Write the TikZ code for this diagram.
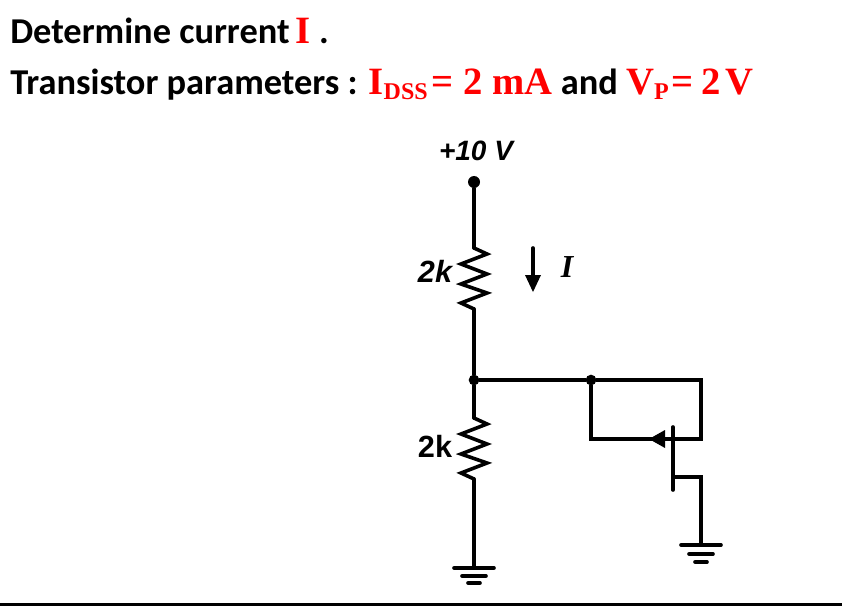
\documentclass[tikz,border=0pt]{standalone}
\usepackage{fontspec}
\usetikzlibrary{calc}
\setmainfont{Carlito}
\newfontfamily\redserif{Liberation Serif}
\newfontfamily\labelsans{Liberation Sans}
\definecolor{redtxt}{rgb}{1,0,0}
\tikzset{
  wire/.style={line width=2.7pt,line join=miter,line cap=round},
  dot/.style={circle,fill=black,inner sep=0pt,minimum size=9pt},
  title/.style={anchor=base west,inner sep=0pt,font=\fontsize{27.3}{30}\selectfont\bfseries},
  value/.style={inner sep=0pt,font=\labelsans\fontsize{21}{24}\selectfont\bfseries},
}
\newcommand{\redbig}[1]{{\redserif\color{redtxt}\fontsize{29}{30}\selectfont\bfseries #1}}
\newcommand{\redsub}[1]{{\redserif\color{redtxt}\fontsize{18}{20}\selectfont\bfseries\raisebox{-3.5pt}{#1}}}
\begin{document}
\begin{tikzpicture}[x=0.75pt,y=0.75pt,yscale=-1,xscale=1]
\useasboundingbox (0,0) rectangle (842,606);

% Points of the circuit
\node [dot] (vplus) at (474,182) {};
\node [dot,minimum size=8pt] (junc) at (474,380) {};
\node [dot,minimum size=8pt] (juncg) at (591,380) {};
\coordinate (rtop) at (474,248);
\coordinate (rbot) at (474,309);
\coordinate (rtwotop) at (474,418);
\coordinate (rtwobot) at (474,479);
\coordinate (gndl) at (474,568);
\coordinate (corner) at (701,380);
\coordinate (gateleft) at (591,439);
\coordinate (gateright) at (701,439);
\coordinate (chantop) at (673,427);
\coordinate (chanbot) at (673,490);
\coordinate (srcin) at (673,477);
\coordinate (srcout) at (701,477);
\coordinate (gndr) at (701,545);
\coordinate (gatetip) at (649,439);
\coordinate (arrtop) at (533,248);
\coordinate (arrbot) at (533,292);

% Supply and first resistor
\draw [wire] (vplus) -- (rtop) ;
\draw [wire] (rtop) -- ++(13,6) -- ++(-26,10) -- ++(26,10) -- ++(-26,10) -- ++(26,9) -- ++(-26,10) -- (rbot) ;
\draw [wire] (rbot) -- (junc) ;
% Second resistor
\draw [wire] (junc) -- (rtwotop) ;
\draw [wire] (rtwotop) -- ++(13,6) -- ++(-26,10) -- ++(26,10) -- ++(-26,10) -- ++(26,9) -- ++(-26,10) -- (rtwobot) ;
\draw [wire] (rtwobot) -- (gndl) ;
% Left ground
\draw [wire] ($(gndl)+(-20,0)$) -- ($(gndl)+(20,0)$) ;
\draw [wire] ($(gndl)+(-12,8)$) -- ($(gndl)+(12,8)$) ;
\draw [wire] ($(gndl)+(-6,15)$) -- ($(gndl)+(6,15)$) ;

% Transistor
\draw [wire] (junc) -- (juncg) ;
\draw [wire] (juncg) -- (corner) -- (gateright) -- (gateleft) -- (juncg) ;
\draw [wire] (chantop) -- (chanbot) ;
\draw [wire] (srcin) -- (srcout) -- (gndr) ;
\fill (gatetip) -- ++(16,-9) -- ++(0,18) -- cycle ;
% Right ground
\draw [wire] ($(gndr)+(-20,0)$) -- ($(gndr)+(20,0)$) ;
\draw [wire] ($(gndr)+(-12,9)$) -- ($(gndr)+(12,9)$) ;
\draw [wire] ($(gndr)+(-6,17)$) -- ($(gndr)+(6,17)$) ;

% Current arrow
\draw [wire,shorten >=10pt] (arrtop) -- (arrbot) ;
\fill (arrbot) -- ++(-8,-17) -- ++(16,0) -- cycle ;

% Bottom rule
\coordinate (ruleleft) at (0,604.5);
\coordinate (ruleright) at (842,604.5);
\draw [line width=1.6pt] (ruleleft) -- (ruleright) ;

% Text Node
\node [title] (lineone) at (10,44) {Determine current\hspace{-1.5pt} \redbig{I} .};
% Text Node
\node [title] (linetwo) at (10,95) {Transistor parameters : \redbig{I}\redsub{DSS}\hspace{3pt}\redbig{= 2 mA} and \redbig{V}\redsub{P}\hspace{2pt}\redbig{=\hspace{-1pt} 2\hspace{-4pt} V}};
% Text Node
\node [value] (vlabel) at (476,151) {\itshape +10 V};
% Text Node
\node [value] (rlabel) at (435,271) {\itshape\fontsize{23}{26}\selectfont 2k};
% Text Node
\node [value] (rtwolabel) at (435,446) {\fontsize{23}{26}\selectfont 2k};
% Text Node
\node [inner sep=0pt,font=\redserif\fontsize{24}{26}\selectfont\bfseries\itshape] (ilabel) at (567,267) {I};
\end{tikzpicture}
\end{document}
